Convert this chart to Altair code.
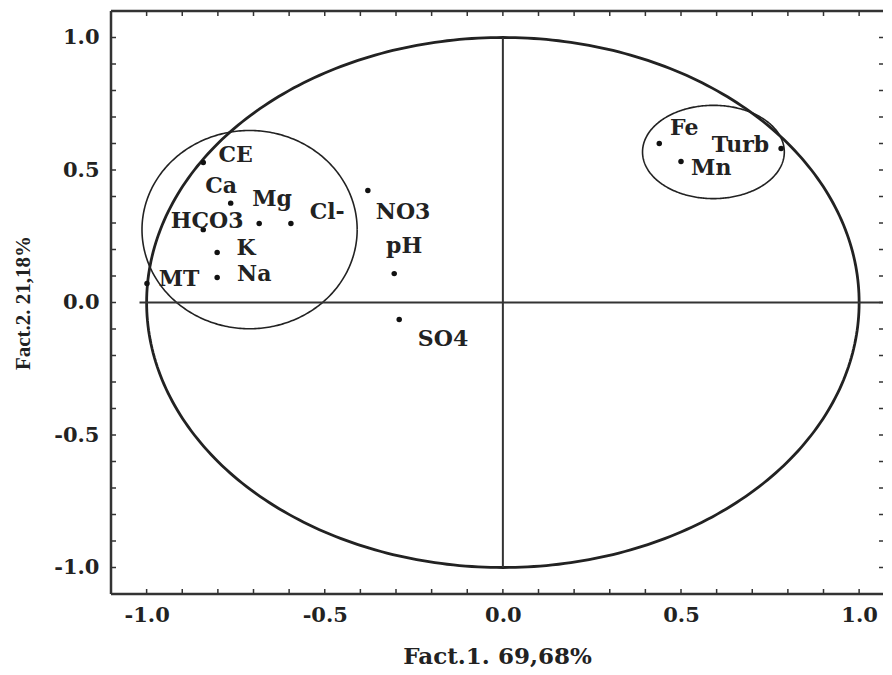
import altair as alt
import numpy as np
import pandas as pd

# variable loadings (Fact.1, Fact.2)
names = ["CE", "Ca", "HCO3", "Mg", "Cl-", "K", "Na", "MT", "NO3", "pH", "SO4", "Fe", "Mn", "Turb"]
f1 = [-0.841, -0.764, -0.841, -0.684, -0.595, -0.802, -0.802, -0.999, -0.379, -0.305, -0.291, 0.439, 0.500, 0.781]
f2 = [0.528, 0.375, 0.275, 0.298, 0.298, 0.189, 0.094, 0.072, 0.423, 0.109, -0.064, 0.600, 0.532, 0.581]
# label anchor positions (data units)
lab_x = [-0.750, -0.791, -0.830, -0.648, -0.493, -0.721, -0.698, -0.909, -0.280, -0.277, -0.168, 0.509, 0.585, 0.667]
lab_y = [0.557, 0.438, 0.309, 0.389, 0.343, 0.204, 0.106, 0.087, 0.340, 0.215, -0.136, 0.657, 0.506, 0.596]

# group ellipses: centre x, centre y, radius x, radius y
grp_cx = [-0.711, 0.591]
grp_cy = [0.275, 0.568]
grp_rx = [0.302, 0.199]
grp_ry = [0.374, 0.176]

tick_labels = [-1.0, -0.5, 0.0, 0.5, 1.0]
minor_ticks = [round(v, 1) for v in np.arange(-1.0, 1.01, 0.1)]

XDOM = [-1.1, 1.067]
YDOM = [-1.1, 1.1]
W, H = 772, 583

pts = pd.DataFrame({"name": names, "f1": f1, "f2": f2, "lx": lab_x, "ly": lab_y})

theta = np.linspace(0, 2 * np.pi, 361)
circ = pd.DataFrame({"x": np.cos(theta), "y": np.sin(theta), "i": np.arange(len(theta))})
ell_rows = []
for g in range(len(grp_cx)):
    for k, t in enumerate(theta):
        ell_rows.append({"g": g, "i": k,
                         "x": grp_cx[g] + grp_rx[g] * np.cos(t),
                         "y": grp_cy[g] + grp_ry[g] * np.sin(t)})
ell = pd.DataFrame(ell_rows)

xs = alt.Scale(domain=XDOM, nice=False, zero=False)
ys = alt.Scale(domain=YDOM, nice=False, zero=False)

lab_expr = "datum.value < 0 ? '-' + format(-datum.value, '.1f') : format(datum.value, '.1f')"

xax = alt.Axis(values=tick_labels, ticks=False, domain=False, grid=False,
               labelFont="DejaVu Serif", labelFontWeight="bold", labelFontSize=21,
               labelColor="#222", labelPadding=10, labelExpr=lab_expr,
               title="Fact.1. 69,68%", titleFont="DejaVu Serif", titleFontWeight="bold",
               titleFontSize=23, titleColor="#222", titlePadding=20)
yax = alt.Axis(values=tick_labels, ticks=False, domain=False, grid=False,
               labelFont="DejaVu Serif", labelFontWeight="bold", labelFontSize=21,
               labelColor="#222", labelPadding=12, labelExpr=lab_expr,
               title="Fact.2. 21,18%", titleFont="Liberation Serif", titleFontWeight="bold",
               titleFontSize=21, titleColor="#222", titlePadding=20)

big = alt.Chart(circ).mark_line(color="#222", strokeWidth=2.8).encode(
    x=alt.X("x:Q", scale=xs, axis=xax),
    y=alt.Y("y:Q", scale=ys, axis=yax),
    order="i:Q",
)
small = alt.Chart(ell).mark_line(color="#222", strokeWidth=1.6).encode(
    x=alt.X("x:Q", scale=xs), y=alt.Y("y:Q", scale=ys), detail="g:N", order="i:Q"
)

vline = pd.DataFrame({"x": [0.0], "y": [-1.0], "y2": [1.0]})
hline = pd.DataFrame({"y": [0.0], "x": [-1.02], "x2": [XDOM[1]]})
vl = alt.Chart(vline).mark_rule(color="#333", strokeWidth=2).encode(
    x=alt.X("x:Q", scale=xs), y=alt.Y("y:Q", scale=ys), y2="y2:Q")
hl = alt.Chart(hline).mark_rule(color="#333", strokeWidth=2).encode(
    y=alt.Y("y:Q", scale=ys), x=alt.X("x:Q", scale=xs), x2="x2:Q")

# frame: left, top, bottom (right edge lies beyond the picture)
frame_l = alt.Chart(pd.DataFrame({"a": [0]})).mark_rule(color="#333", strokeWidth=2.5).encode(
    x=alt.value(0), y=alt.value(0), y2=alt.value(H))
frame_t = alt.Chart(pd.DataFrame({"a": [0]})).mark_rule(color="#333", strokeWidth=2.5).encode(
    x=alt.value(0), x2=alt.value(W), y=alt.value(0))
frame_b = alt.Chart(pd.DataFrame({"a": [0]})).mark_rule(color="#333", strokeWidth=2.5).encode(
    x=alt.value(0), x2=alt.value(W), y=alt.value(H))

tk = pd.DataFrame({"v": minor_ticks})
tb = alt.Chart(tk).mark_rule(color="#333", strokeWidth=1.5).encode(
    x=alt.X("v:Q", scale=xs), y=alt.value(H), y2=alt.value(H - 5))
tt = alt.Chart(tk).mark_rule(color="#333", strokeWidth=1.5).encode(
    x=alt.X("v:Q", scale=xs), y=alt.value(0), y2=alt.value(5))
tl = alt.Chart(tk).mark_rule(color="#333", strokeWidth=1.5).encode(
    y=alt.Y("v:Q", scale=ys), x=alt.value(0), x2=alt.value(5))
tr = alt.Chart(tk).mark_rule(color="#333", strokeWidth=1.5).encode(
    y=alt.Y("v:Q", scale=ys), x=alt.value(W), x2=alt.value(W - 4))

dots = alt.Chart(pts).mark_circle(color="#111", opacity=1, size=30).encode(
    x=alt.X("f1:Q", scale=xs), y=alt.Y("f2:Q", scale=ys))
labels = alt.Chart(pts).mark_text(font="DejaVu Serif", fontWeight="bold", fontSize=22,
                                  color="#222", align="center", baseline="middle").encode(
    x=alt.X("lx:Q", scale=xs), y=alt.Y("ly:Q", scale=ys), text="name:N")

chart = alt.layer(big, small, vl, hl, frame_l, frame_t, frame_b, tb, tt, tl, tr, dots, labels).properties(
    width=W, height=H,
    autosize=alt.AutoSizeParams(type="none"),
    padding={"left": 103, "top": 3, "right": 0, "bottom": 80},
    background="white",
).configure_view(stroke=None)

chart.save("out.html", embed_options={"renderer": "svg", "actions": False})
